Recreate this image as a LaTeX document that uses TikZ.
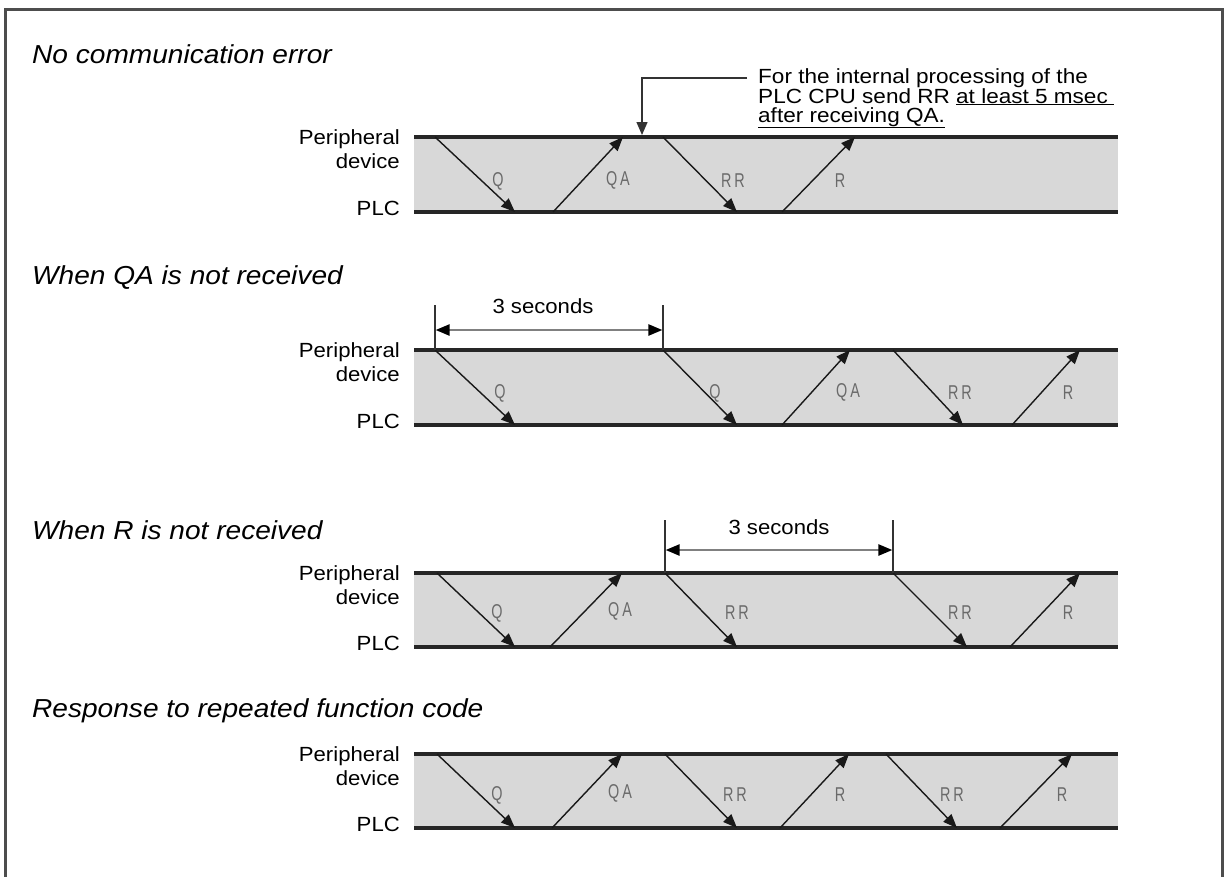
\documentclass[tikz,border=0pt]{standalone}
\usepackage{fontspec}
\setmainfont{Liberation Sans}
\usepackage{graphicx}
\usetikzlibrary{arrows.meta}
\newcommand\hx[1]{\scalebox{1.08}[1]{#1}}
\newcommand\tx[1]{\scalebox{1.08}[1]{#1}}
\newcommand\cx[1]{\scalebox{1.1}[1]{#1}}
\newcommand\nx[1]{\scalebox{0.72}[1]{#1}}
\definecolor{framegray}{HTML}{4D4D4D}
\definecolor{bandgray}{HTML}{D8D8D8}
\definecolor{lblgray}{HTML}{6A6A6A}
\tikzset{
  frameline/.style={draw=framegray, line width=3.2pt},
  bandline/.style={draw=black!85, line width=3.6pt},
  msg/.style={draw=black!90, line width=1.4pt, -{Triangle[length=14pt,width=11pt]}},
  lbl/.style={text=lblgray, font=\fontsize{20}{20}\selectfont, inner sep=0pt},
  ttl/.style={font=\fontsize{26}{26}\selectfont\itshape, anchor=base west, inner sep=0pt},
  side/.style={font=\fontsize{20.5}{21}\selectfont, anchor=base east, inner sep=0pt},
  note/.style={font=\fontsize{20.5}{21}\selectfont, anchor=base west, inner sep=0pt},
  callout/.style={draw=black!80, line width=1.3pt, -{Triangle[length=13pt,width=11pt]}},
  dimline/.style={draw=black!80, line width=1.3pt},
  dimarrow/.style={draw=black!50, line width=2.4pt,
    {Triangle[length=14pt,width=11pt,color=black]}-{Triangle[length=14pt,width=11pt,color=black]}},
}
\begin{document}
\begin{tikzpicture}[x=1pt,y=-1pt]
\useasboundingbox (0,0) rectangle (1225,876);
% frame (open at the bottom)
\draw[frameline] (5.5,880) -- (5.5,9.5) -- (1222.5,9.5) -- (1222.5,880);

% titles
\node[ttl] (t1) at (32,63) {\tx{No communication error}};
\node[ttl] (t2) at (32,284) {\tx{When QA is not received}};
\node[ttl] (t3) at (32,539) {\tx{When R is not received}};
\node[ttl] (t4) at (32,717) {\tx{Response to repeated function code}};

% bands
\foreach \tp/\bt [count=\i] in {137/212, 350/425, 573/647, 754/828} {
  \fill[bandgray] (414,\tp) rectangle (1118,\bt);
  \coordinate (b\i tl) at (414,\tp);
  \coordinate (b\i tr) at (1118,\tp);
  \coordinate (b\i bl) at (414,\bt);
  \coordinate (b\i br) at (1118,\bt);
  \draw[bandline] (b\i tl) -- (b\i tr);
  \draw[bandline] (b\i bl) -- (b\i br);
  \node[side] (per\i) at (400,\tp+7) {\hx{Peripheral}};
  \node[side] (dev\i) at (400,\tp+31) {\hx{device}};
  \node[side] (plc\i) at (400,\bt+3) {\hx{PLC}};
}

% messages
\foreach \xa/\ya/\xb/\yb/\lx/\ly/\txt [count=\n] in {
  435/137/515/212/498/181/Q,
  553/212/623/137/618/180/Q\kern4pt A,
  663/137/737/212/733/181/R\kern4pt R,
  782/212/855/137/840/181/R,
  435/350/515/425/500/393/Q,
  663/350/737/425/715/393/Q,
  782/425/850/350/848/392/Q\kern4pt A,
  893/350/963/425/960/393/R\kern4pt R,
  1012/425/1080/350/1068/393/R,
  437/573/515/647/497/613/Q,
  550/647/622/573/620/611/Q\kern4pt A,
  665/573/737/647/737/613/R\kern4pt R,
  893/573/967/647/960/613/R\kern4pt R,
  1010/647/1080/573/1068/613/R,
  437/754/515/828/497/795/Q,
  552/828/622/754/620/793/Q\kern4pt A,
  665/754/737/828/735/795/R\kern4pt R,
  780/828/849/754/840/795/R,
  886/754/957/828/952/795/R\kern4pt R,
  1000/828/1072/754/1062/795/R} {
  \coordinate (m\n a) at (\xa,\ya);
  \coordinate (m\n b) at (\xb,\yb);
  \draw[msg] (m\n a) -- (m\n b);
  \node[lbl] (l\n) at (\lx,\ly) {\nx{\txt}};
}

% callout
\coordinate (c0) at (747,78);
\coordinate (c1) at (642,78);
\coordinate (c2) at (642,135);
\draw[callout] (c0) -- (c1) -- (c2);
\node[note] (n1) at (758,83) {\cx{For the internal processing of the}};
\node[note] (n2) at (758,103) {\cx{PLC CPU send RR \underline{at least 5 msec\ }}};
\node[note] (n3) at (758,122) {\cx{\underline{after receiving QA.}}};

% 3 seconds (section 2)
\coordinate (d1a) at (435,305); \coordinate (d1b) at (435,350);
\coordinate (d1c) at (663,305); \coordinate (d1d) at (663,350);
\draw[dimline] (d1a) -- (d1b);
\draw[dimline] (d1c) -- (d1d);
\coordinate (d1l) at (435.6,330); \coordinate (d1r) at (662.4,330);
\draw[dimarrow] (d1l) -- (d1r);
\node[note, anchor=base] (s1) at (543,313) {\hx{3 seconds}};

% 3 seconds (section 3)
\coordinate (d2a) at (665,520); \coordinate (d2b) at (665,573);
\coordinate (d2c) at (893,520); \coordinate (d2d) at (893,573);
\draw[dimline] (d2a) -- (d2b);
\draw[dimline] (d2c) -- (d2d);
\coordinate (d2l) at (665.6,550); \coordinate (d2r) at (892.4,550);
\draw[dimarrow] (d2l) -- (d2r);
\node[note, anchor=base] (s2) at (779,534) {\hx{3 seconds}};
\end{tikzpicture}
\end{document}
